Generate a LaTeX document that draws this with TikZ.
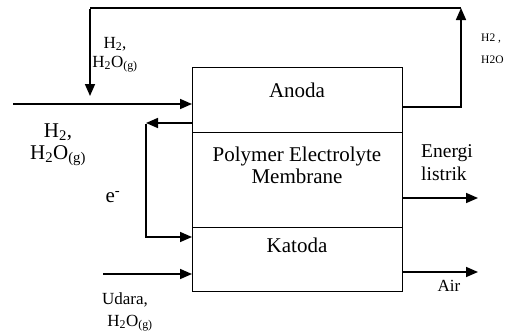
\documentclass[tikz,border=0pt]{standalone}
\usepackage{fontspec}
\setmainfont{Liberation Serif}
\usetikzlibrary{arrows.meta}
\begin{document}
\begin{tikzpicture}[x=1pt,y=-1pt,
  cell/.style={draw,line width=1.3pt,minimum width=210pt,inner sep=0pt,anchor=north west},
  arr/.style={line width=1.6pt,-{Triangle[length=12pt,width=10pt]}},
  ln/.style={line width=1.6pt},
  big/.style={font=\fontsize{21}{24}\selectfont,inner sep=0pt},
  mid/.style={font=\fontsize{17}{20}\selectfont,inner sep=0pt},
  tiny/.style={font=\fontsize{11.5}{14}\selectfont,inner sep=0pt}]
\useasboundingbox (0,0) rectangle (506,332);
% boxes
\node[cell,minimum height=65pt] (an) at (192,67) {};
\node[cell,minimum height=95pt] (pem) at (192,132) {};
\node[cell,minimum height=64pt] (kat) at (192,227) {};
\node[big] (tan) at (297,90) {Anoda};
\node[big,align=center] (tpem) at (297,165) {Polymer Electrolyte\\[-2pt]Membrane};
\node[big] (tkat) at (297,245) {Katoda};
% anode input
\coordinate (inH) at (13,104);
\draw[arr] (inH) -- (inH -| an.west);
% recycle loop
\coordinate (outA) at (402,107);
\coordinate (topR) at (461,8);
\coordinate (topL) at (90,8);
\coordinate (downE) at (90,96);
\draw[arr] (outA) -| (topR);
\draw[ln] (topR) -- (topL);
\draw[arr] ([yshift=-0.8pt]topL) -- (downE);
% electron circuit
\coordinate (eA) at (192,123);
\coordinate (eT) at (146,123);
\coordinate (eK) at (192,237);
\draw[arr] (eA) -- (eT);
\draw[ln] ([yshift=-0.8pt]eT) -- (146,237);
\draw[arr] ([xshift=-0.8pt]146,237) -- (eK);
% air input
\coordinate (inU) at (103,274);
\draw[arr] (inU) -- (inU -| kat.west);
% outputs
\coordinate (oE) at (402,198);
\coordinate (oEe) at (478,198);
\draw[arr] (oE) -- (oEe);
\coordinate (oA) at (402,272);
\coordinate (oAe) at (478,272);
\draw[arr] (oA) -- (oAe);
% labels
\node[mid] (l1) at (115,44) {H\textsubscript{2},};
\node[mid] (l2) at (115,64) {H\textsubscript{2}O\textsubscript{(g)}};
\node[big] (l3) at (58,132) {H\textsubscript{2},};
\node[big] (l4) at (58,156) {H\textsubscript{2}O\textsubscript{(g)}};
\node[big] (le) at (113,197) {e\textsuperscript{-}};
\node[mid] (l5) at (125,300) {Udara,};
\node[mid] (l6) at (130,323) {H\textsubscript{2}O\textsubscript{(g)}};
\node[big,anchor=west,font=\fontsize{19.5}{22}\selectfont] (l7) at (421,153) {Energi};
\node[big,anchor=west,font=\fontsize{19.5}{22}\selectfont] (l8) at (421,174) {listrik};
\node[mid] (l9) at (449,286) {Air};
\node[tiny,anchor=west] (l10) at (481,39) {H2 ,};
\node[tiny,anchor=west] (l11) at (481,60) {H2O};
\end{tikzpicture}
\end{document}
